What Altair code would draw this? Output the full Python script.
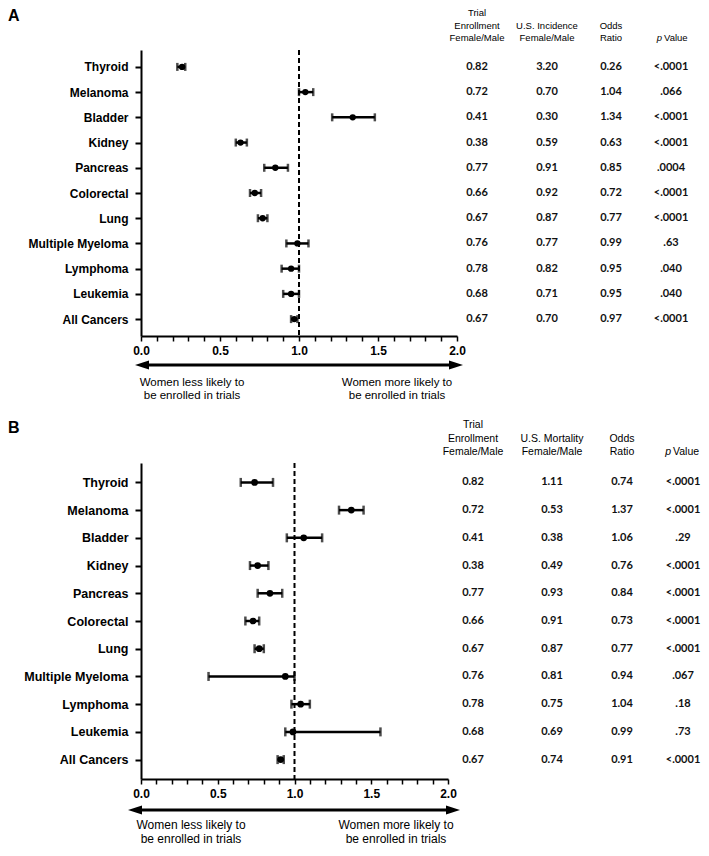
import altair as alt
import pandas as pd

categories = ["Thyroid", "Melanoma", "Bladder", "Kidney", "Pancreas", "Colorectal",
              "Lung", "Multiple Myeloma", "Lymphoma", "Leukemia", "All Cancers"]

# Panel A (incidence)
a_or = [0.26, 1.04, 1.34, 0.63, 0.85, 0.72, 0.77, 0.99, 0.95, 0.95, 0.97]
a_lo = [0.23, 1.00, 1.21, 0.60, 0.78, 0.69, 0.74, 0.92, 0.89, 0.90, 0.95]
a_hi = [0.28, 1.09, 1.48, 0.67, 0.93, 0.76, 0.80, 1.06, 1.00, 1.00, 0.99]
a_trial = ["0.82", "0.72", "0.41", "0.38", "0.77", "0.66", "0.67", "0.76", "0.78", "0.68", "0.67"]
a_us = ["3.20", "0.70", "0.30", "0.59", "0.91", "0.92", "0.87", "0.77", "0.82", "0.71", "0.70"]
a_p = ["<.0001", ".066", "<.0001", "<.0001", ".0004", "<.0001", "<.0001", ".63", ".040", ".040", "<.0001"]
a_headers = ["Trial\nEnrollment\nFemale/Male", "\nU.S. Incidence\nFemale/Male", "\nOdds\nRatio"]

# Panel B (mortality)
b_or = [0.74, 1.37, 1.06, 0.76, 0.84, 0.73, 0.77, 0.94, 1.04, 0.99, 0.91]
b_lo = [0.65, 1.29, 0.95, 0.71, 0.76, 0.68, 0.74, 0.44, 0.98, 0.94, 0.89]
b_hi = [0.86, 1.45, 1.18, 0.83, 0.92, 0.77, 0.80, 1.00, 1.10, 1.56, 0.93]
b_trial = ["0.82", "0.72", "0.41", "0.38", "0.77", "0.66", "0.67", "0.76", "0.78", "0.68", "0.67"]
b_us = ["1.11", "0.53", "0.38", "0.49", "0.93", "0.91", "0.87", "0.81", "0.75", "0.69", "0.74"]
b_p = ["<.0001", "<.0001", ".29", "<.0001", "<.0001", "<.0001", "<.0001", ".067", ".18", ".73", "<.0001"]
b_headers = ["Trial\nEnrollment\nFemale/Male", "\nU.S. Mortality\nFemale/Male", "\nOdds\nRatio"]

x_ticks = [round(i * 0.1, 1) for i in range(21)]

LAB = "Liberation Sans, Arial, sans-serif"
NUM = "Lato, sans-serif"


def panel(letter, odds, lo, hi, trial, us, pv, headers, s):
    W, H = s["W"], s["H"]
    df = pd.DataFrame({"cat": categories, "or": odds, "lo": lo, "hi": hi})
    ysc = alt.Scale(type="point", padding=s["pad"], domain=categories)
    yax = alt.Axis(title=None, labelFont=LAB, labelFontWeight="bold",
                   labelFontSize=s["lfs"], labelColor="black", domainColor="black",
                   domainWidth=2, tickColor="black", tickWidth=2, tickSize=6,
                   labelPadding=s["lpad"], grid=False)
    y = alt.Y("cat:N", scale=ysc, sort=categories, axis=yax)
    xsc = alt.Scale(domain=[0, 2], nice=False, zero=False)
    xax = alt.Axis(title=None, values=x_ticks, labelFont=LAB, labelFontWeight="bold",
                   labelFontSize=12, labelColor="black", domainColor="black", domainWidth=2,
                   tickColor="black", tickWidth=1.5, tickSize=5, labelPadding=4,
                   labelFlush=False, labelOverlap=False, grid=False,
                   labelExpr="abs(datum.value*2 - round(datum.value*2)) < 0.001 ? format(datum.value, '.1f') : ''")
    base = alt.Chart(df)
    dashed = alt.Chart(pd.DataFrame({"v": [1.0]})).mark_rule(
        color="black", strokeWidth=2, strokeDash=[5, 3]).encode(
        x=alt.X("v:Q", scale=xsc, axis=xax))
    ci = base.mark_rule(color="black", strokeWidth=2.5).encode(
        x=alt.X("lo:Q", scale=xsc, axis=xax), x2="hi:Q", y=y)
    cap_lo = base.mark_tick(color="black", thickness=2.5, size=s["cap"]).encode(
        x=alt.X("lo:Q", scale=xsc, axis=xax), y=y)
    cap_hi = base.mark_tick(color="black", thickness=2.5, size=s["cap"]).encode(
        x=alt.X("hi:Q", scale=xsc, axis=xax), y=y)
    pts = base.mark_circle(color="black", opacity=1, size=s["pt"]).encode(
        x=alt.X("or:Q", scale=xsc, axis=xax), y=y)
    forest = alt.layer(dashed, ci, cap_lo, cap_hi, pts)

    # table
    rows = []
    for i, c in enumerate(categories):
        for j, t in enumerate([trial[i], us[i], f"{odds[i]:.2f}", pv[i]]):
            rows.append({"cat": c, "col": j, "txt": t})
    tdf = pd.DataFrame(rows)
    tsc = alt.Scale(type="linear", domain=[0, 1, 2, 3], range=s["cols"], zero=False, nice=False)
    tx = alt.X("col:Q", scale=tsc, axis=None)
    table = alt.Chart(tdf).mark_text(font=NUM, fontWeight="bold", fontSize=s["tfs"],
                                     color="#111", align="center", baseline="middle").encode(
        x=tx, y=y, text="txt:N")
    hdf = pd.DataFrame({"col": [0, 1, 2], "txt": headers})
    head = alt.Chart(hdf).mark_text(font=LAB, fontSize=s["hfs"], color="black", align="center",
                                    baseline="top", lineBreak="\n", lineHeight=s["hlh"]).encode(
        x=tx, y=alt.value(s["hy"]), text="txt:N")
    pdf = pd.DataFrame({"col": [3]})
    py = s["hy"] + 2 * s["hlh"]
    p_it = alt.Chart(pdf).mark_text(font=LAB, fontSize=s["hfs"], fontStyle="italic", color="black",
                                    align="right", baseline="top", dx=s["pdx"], text="p").encode(
        x=tx, y=alt.value(py))
    p_val = alt.Chart(pdf).mark_text(font=LAB, fontSize=s["hfs"], color="black",
                                     align="left", baseline="top", dx=s["pdx"] + 2, text="Value").encode(
        x=tx, y=alt.value(py))
    tbl = alt.layer(table, head, p_it, p_val)

    # annotations
    one = pd.DataFrame({"a": [0]})
    ay = H + s["arrow_dy"]
    arrow = alt.Chart(one).mark_rule(color="black", strokeWidth=3).encode(
        x=alt.value(s["ax0"] + 6), x2=alt.value(s["ax1"] - 6), y=alt.value(ay))
    head_l = alt.Chart(one).mark_point(shape="M-1,0L1,-0.65L1,0.65Z", filled=True, color="black",
                                       opacity=1, size=196).encode(
        x=alt.value(s["ax0"] + 7), y=alt.value(ay))
    head_r = alt.Chart(one).mark_point(shape="M1,0L-1,-0.65L-1,0.65Z", filled=True, color="black",
                                       opacity=1, size=196).encode(
        x=alt.value(s["ax1"] - 7), y=alt.value(ay))
    t_l = alt.Chart(one).mark_text(font=LAB, fontSize=s["afs"], color="black", align="center",
                                   baseline="top", lineBreak="\n", lineHeight=s["alh"],
                                   text="Women less likely to\nbe enrolled in trials").encode(
        x=alt.value(s["tl"]), y=alt.value(H + s["text_dy"]))
    t_r = alt.Chart(one).mark_text(font=LAB, fontSize=s["afs"], color="black", align="center",
                                   baseline="top", lineBreak="\n", lineHeight=s["alh"],
                                   text="Women more likely to\nbe enrolled in trials").encode(
        x=alt.value(s["tr"]), y=alt.value(H + s["text_dy"]))
    lab = alt.Chart(one).mark_text(font=LAB, fontSize=16, fontWeight="bold", color="black",
                                   align="left", baseline="top", text=letter).encode(
        x=alt.value(s["lx"]), y=alt.value(s["ly"]))
    notes = alt.layer(arrow, head_l, head_r, t_l, t_r, lab)

    return alt.layer(forest, tbl, notes).resolve_scale(
        x="independent").properties(width=W, height=H)


sA = dict(W=316, H=286, pad=0.67, lfs=12, lpad=7, cap=8, pt=40, tfs=11, hfs=9.5, hlh=12.5,
          hy=-42, cols=[336, 406, 470, 530], pdx=-9, arrow_dy=29, ax0=-6, ax1=322,
          afs=11.5, alh=13, tl=51, tr=256, text_dy=41, lx=-133, ly=-42)
sB = dict(W=307, H=316, pad=0.7, lfs=12.5, lpad=7, cap=9, pt=45, tfs=11, hfs=10.5, hlh=13.5,
          hy=-43, cols=[332, 411, 481, 542], pdx=-12, arrow_dy=31, ax0=-13, ax1=319,
          afs=12, alh=14, tl=50, tr=255, text_dy=41, lx=-133, ly=-43)

chart = alt.concat(
    panel("A", a_or, a_lo, a_hi, a_trial, a_us, a_p, a_headers, sA),
    panel("B", b_or, b_lo, b_hi, b_trial, b_us, b_p, b_headers, sB),
    columns=1, spacing=18, align="none"
).properties(padding=0).configure_view(stroke=None)

chart.save("out.html", embed_options={"renderer": "svg", "actions": False})
